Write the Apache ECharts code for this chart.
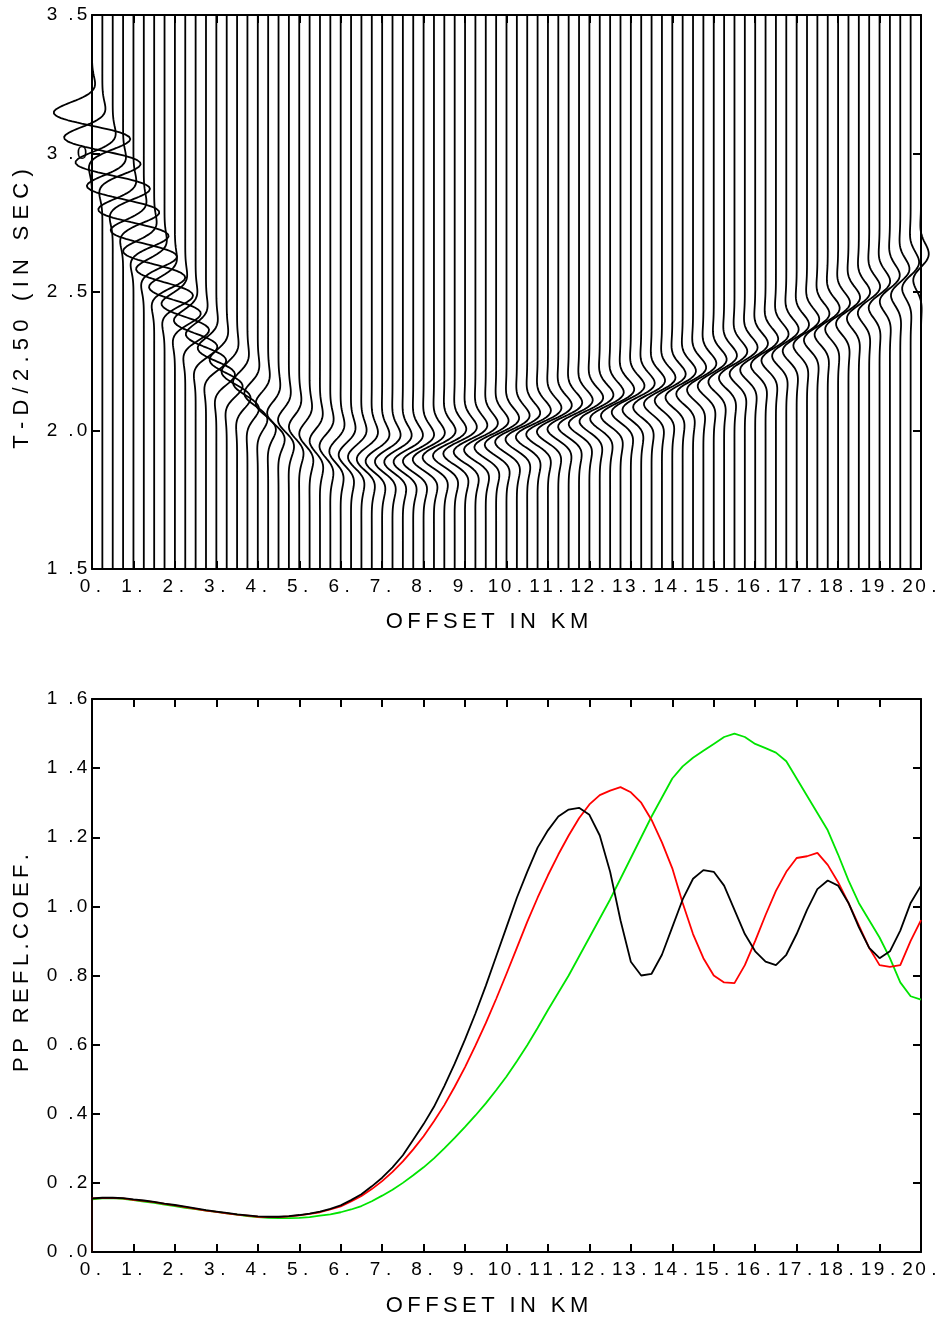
<!DOCTYPE html>
<html><head><meta charset="utf-8">
<script src="https://cdn.jsdelivr.net/npm/echarts@6/dist/echarts.min.js"></script>
<style>html,body{margin:0;padding:0;background:#fff}#c{width:949px;height:1325px}</style>
</head><body><div id="c"></div>
<script>
// ---------- data ----------
const offsets = [
  0,0.25,0.5,0.75, 1,1.25,1.5,1.75, 2,2.25,2.5,2.75, 3,3.25,3.5,3.75, 4,4.25,4.5,4.75,
  5,5.25,5.5,5.75, 6,6.25,6.5,6.75, 7,7.25,7.5,7.75, 8,8.25,8.5,8.75, 9,9.25,9.5,9.75,
  10,10.25,10.5,10.75, 11,11.25,11.5,11.75, 12,12.25,12.5,12.75, 13,13.25,13.5,13.75,
  14,14.25,14.5,14.75, 15,15.25,15.5,15.75, 16,16.25,16.5,16.75, 17,17.25,17.5,17.75,
  18,18.25,18.5,18.75, 19,19.25,19.5,19.75, 20];

// reduced event time of each trace (s)
const eventTime = [
  3.10,3.01,2.92,2.835, 2.75,2.675,2.60,2.535, 2.47,2.41,2.35,2.30, 2.25,2.21,2.17,2.135,
  2.10,2.07,2.04,2.02, 2.00,1.98,1.96,1.945, 1.93,1.92,1.915,1.91, 1.905,1.905,1.905,1.907,
  1.91,1.917,1.925,1.932, 1.94,1.947,1.955,1.965, 1.975,1.985,1.995,2.005, 2.015,2.025,2.035,2.045,
  2.055,2.065,2.075,2.087, 2.10,2.11,2.12,2.132, 2.145,2.157,2.17,2.185, 2.20,2.215,2.23,2.245,
  2.26,2.277,2.295,2.312, 2.33,2.35,2.37,2.39, 2.41,2.43,2.45,2.47, 2.49,2.512,2.535,2.56, 2.59];

// wiggle amplitude of each trace (in trace spacings)
const amplitude = [
  3.7,3.7,3.6,3.5, 3.4,3.2,3.0,2.75, 2.5,2.3,2.1,1.95, 1.8,1.65,1.5,1.4, 1.3,1.2,1.1,1.05,
  1.0,1.0,1.0,1.05, 1.1,1.2,1.3,1.45, 1.6,1.7,1.8,1.9, 2.0,2.05,2.1,2.1, 2.1,2.1,2.1,2.1,
  2.1,2.1,2.1,2.1, 2.1,2.07,2.05,2.02, 2.0,1.96,1.93,1.89, 1.85,1.81,1.78,1.74,
  1.7,1.66,1.62,1.58, 1.55,1.52,1.5,1.47, 1.45,1.42,1.4,1.37, 1.35,1.32,1.3,1.27,
  1.25,1.2,1.15,1.1, 1.05,0.98,0.9,0.82, 0.75];

// wavelet phase of each trace (degrees)
const phaseDeg = [
  90,90,90,90, 90,90,90,90, 90,90,90,90, 90,95,100,107, 115,125,135,145,
  155,165,175,183, 190,195,200,205, 210,213,215,218, 220,221,222,224, 225,226,227,229,
  230,231,232,234, 235,236,237,239, 240,241,242,244, 245,246,247,249,
  250,251,252,253, 254,255,256,257, 258,259,260,260, 261,262,262,263,
  264,265,266,267, 268,268,269,270, 270];

// PP reflection coefficient curves (same offsets)
const reflStart = 0;
const reflBlack = [
  0.155,0.157,0.157,0.156, 0.152,0.149,0.145,0.140, 0.136,0.131,0.126,0.121, 0.117,0.113,0.109,0.106,
  0.103,0.102,0.102,0.104, 0.107,0.111,0.117,0.125, 0.135,0.150,0.167,0.190, 0.215,0.245,0.280,0.325,
  0.370,0.420,0.480,0.545, 0.615,0.690,0.770,0.855, 0.940,1.025,1.100,1.170, 1.220,1.260,1.280,1.285,
  1.265,1.205,1.100,0.960, 0.840,0.800,0.805,0.860, 0.940,1.020,1.080,1.105, 1.100,1.060,0.990,0.920,
  0.870,0.840,0.830,0.860, 0.920,0.990,1.050,1.075, 1.060,1.010,0.940,0.880, 0.850,0.870,0.930,1.010, 1.060];
const reflRed = [
  0.155,0.156,0.156,0.155, 0.151,0.148,0.144,0.139, 0.135,0.130,0.125,0.120, 0.116,0.112,0.108,0.105,
  0.102,0.101,0.101,0.103, 0.106,0.110,0.115,0.123, 0.132,0.146,0.162,0.182, 0.205,0.232,0.262,0.297,
  0.335,0.378,0.425,0.478, 0.535,0.597,0.662,0.732, 0.805,0.880,0.955,1.025, 1.090,1.150,1.205,1.255,
  1.295,1.322,1.335,1.345, 1.330,1.300,1.250,1.185, 1.110,1.010,0.920,0.850, 0.800,0.780,0.778,0.830,
  0.900,0.975,1.045,1.100, 1.140,1.145,1.155,1.120, 1.070,1.010,0.945,0.880, 0.830,0.825,0.830,0.900, 0.960];
const reflGreen = [
  0.152,0.155,0.156,0.154, 0.150,0.146,0.142,0.137, 0.133,0.128,0.124,0.120, 0.116,0.112,0.108,0.104,
  0.101,0.099,0.098,0.098, 0.099,0.101,0.105,0.109, 0.115,0.123,0.133,0.147, 0.163,0.180,0.200,0.222,
  0.245,0.271,0.300,0.330, 0.362,0.395,0.430,0.468, 0.508,0.552,0.598,0.648, 0.700,0.750,0.800,0.855,
  0.910,0.965,1.020,1.080, 1.140,1.200,1.260,1.315, 1.370,1.405,1.430,1.450, 1.470,1.490,1.500,1.490,
  1.470,1.458,1.445,1.420, 1.370,1.320,1.270,1.220, 1.150,1.075,1.010,0.960, 0.910,0.850,0.780,0.740, 0.730];

const xTitle = 'OFFSET IN KM';
const yTitleTop = 'T-D/2.50 (IN SEC)';
const yTitleBottom = 'PP REFL.COEF.';

// ---------- drawing ----------
const TRACE_SPACING = 0.25, FREQ = 4, SIGMA = 0.07;
function wavelet(tau, phi) {
  return Math.exp(-tau * tau / (2 * SIGMA * SIGMA)) * Math.cos(2 * Math.PI * FREQ * tau + phi);
}
function peakOf(phi) {
  let m = 0;
  for (let tau = -0.3; tau <= 0.3; tau += 0.001) m = Math.max(m, Math.abs(wavelet(tau, phi)));
  return m;
}
const FONT = '"Liberation Sans", Arial, Helvetica, sans-serif';
const THIN = '\u2009';
function spaced(s, gap) { return s.split('').join(gap || THIN); }
function xLabel(v) {
  return String(Math.round(v)).split('').map(c => '{d|' + c + '}').join('') + '{p|.}';
}
function yLabel(v) {
  const p = (Math.round(v * 10) / 10).toFixed(1).split('.');
  return '{d|' + p[0] + '}{s| }{p|.}{d|' + p[1] + '}';
}
const cell = (w) => ({ width: w, align: 'center', fontSize: 19, fontFamily: FONT, color: '#000' });

const series = [];
offsets.forEach((x0, k) => {
  const phi = phaseDeg[k] * Math.PI / 180, norm = peakOf(phi);
  const pts = [];
  for (let i = 0; i <= 500; i++) {
    const t = 1.5 + i * 0.004;
    pts.push([x0 + TRACE_SPACING * amplitude[k] * wavelet(t - eventTime[k], phi) / norm, t]);
  }
  series.push({ type: 'line', xAxisIndex: 4, yAxisIndex: 4, data: pts, showSymbol: false, clip: false,
    silent: true, animation: false, lineStyle: { color: '#000', width: 1.8 } });
});
function curve(vals, color) {
  const d = [[offsets[0], reflStart]];
  vals.forEach((v, i) => d.push([offsets[i], v]));
  return { type: 'line', xAxisIndex: 2, yAxisIndex: 2, data: d, showSymbol: false, clip: false,
    silent: true, animation: false, lineStyle: { color, width: 1.8 } };
}
series.push(curve(reflGreen, '#00e400'));
series.push(curve(reflRed, '#ff0000'));
series.push(curve(reflBlack, '#000000'));

const lineS = { lineStyle: { color: '#000', width: 2 }, onZero: false };
const tickS = { inside: true, length: 8, lineStyle: { color: '#000', width: 2 } };
function xAxes(g) {
  return [
    { gridIndex: g, type: 'value', min: 0, max: 20, interval: 1, position: 'bottom', axisLine: lineS,
      axisTick: tickS, splitLine: { show: false },
      axisLabel: { show: true, formatter: xLabel, margin: 8, showMinLabel: true, showMaxLabel: true,
        hideOverlap: false, color: '#000', fontSize: 19, fontFamily: FONT,
        rich: { d: cell(13), p: cell(14) } } },
    { gridIndex: g, type: 'value', min: 0, max: 20, interval: 1, position: 'top', axisLine: lineS,
      axisTick: tickS, axisLabel: { show: false }, splitLine: { show: false } }
  ];
}
function yAxes(g, min, max, step) {
  return [
    { gridIndex: g, type: 'value', min, max, interval: step, position: 'left', axisLine: lineS,
      axisTick: tickS, splitLine: { show: false },
      axisLabel: { show: true, formatter: yLabel, margin: 4, showMinLabel: true, showMaxLabel: true,
        hideOverlap: false, color: '#000', fontSize: 19, fontFamily: FONT,
        rich: { d: cell(12), s: cell(8), p: cell(10) } } },
    { gridIndex: g, type: 'value', min, max, interval: step, position: 'right', axisLine: lineS,
      axisTick: tickS, axisLabel: { show: false }, splitLine: { show: false } }
  ];
}
const tStyle = (text, gap) => ({ text: spaced(text, gap), fill: '#000', font: '22px ' + FONT,
  align: 'center', verticalAlign: 'middle', textAlign: 'center', textVerticalAlign: 'middle' });

// hidden wider grid with exactly the same scale as the top panel (fits inside the page),
// so the wiggles can swing past the frame on the left
const PX_PER_KM = 829 / 20;
const WIDE_MIN = -2, WIDE_MAX = 20.5;
const chart = echarts.init(document.getElementById('c'), null, { renderer: 'canvas' });
chart.setOption({
  animation: false,
  backgroundColor: '#fff',
  grid: [
    { left: 92, top: 15, width: 829, height: 554 },
    { left: 92, top: 699, width: 829, height: 553 },
    { left: 92 + WIDE_MIN * PX_PER_KM, top: 15, width: (WIDE_MAX - WIDE_MIN) * PX_PER_KM, height: 554 }
  ],
  xAxis: [...xAxes(0), ...xAxes(1),
    { gridIndex: 2, type: 'value', min: WIDE_MIN, max: WIDE_MAX, show: false, splitLine: { show: false } }],
  yAxis: [...yAxes(0, 1.5, 3.5, 0.5), ...yAxes(1, 0, 1.6, 0.2),
    { gridIndex: 2, type: 'value', min: 1.5, max: 3.5, show: false, splitLine: { show: false } }],
  series,
  graphic: [
    { type: 'text', x: 487, y: 622, style: tStyle(xTitle) },
    { type: 'text', x: 487, y: 1306, style: tStyle(xTitle) },
    { type: 'text', x: 22, y: 309, rotation: Math.PI / 2, style: tStyle(yTitleTop, THIN + '\u200A') },
    { type: 'text', x: 22, y: 963, rotation: Math.PI / 2, style: tStyle(yTitleBottom) }
  ]
});
</script></body></html>
